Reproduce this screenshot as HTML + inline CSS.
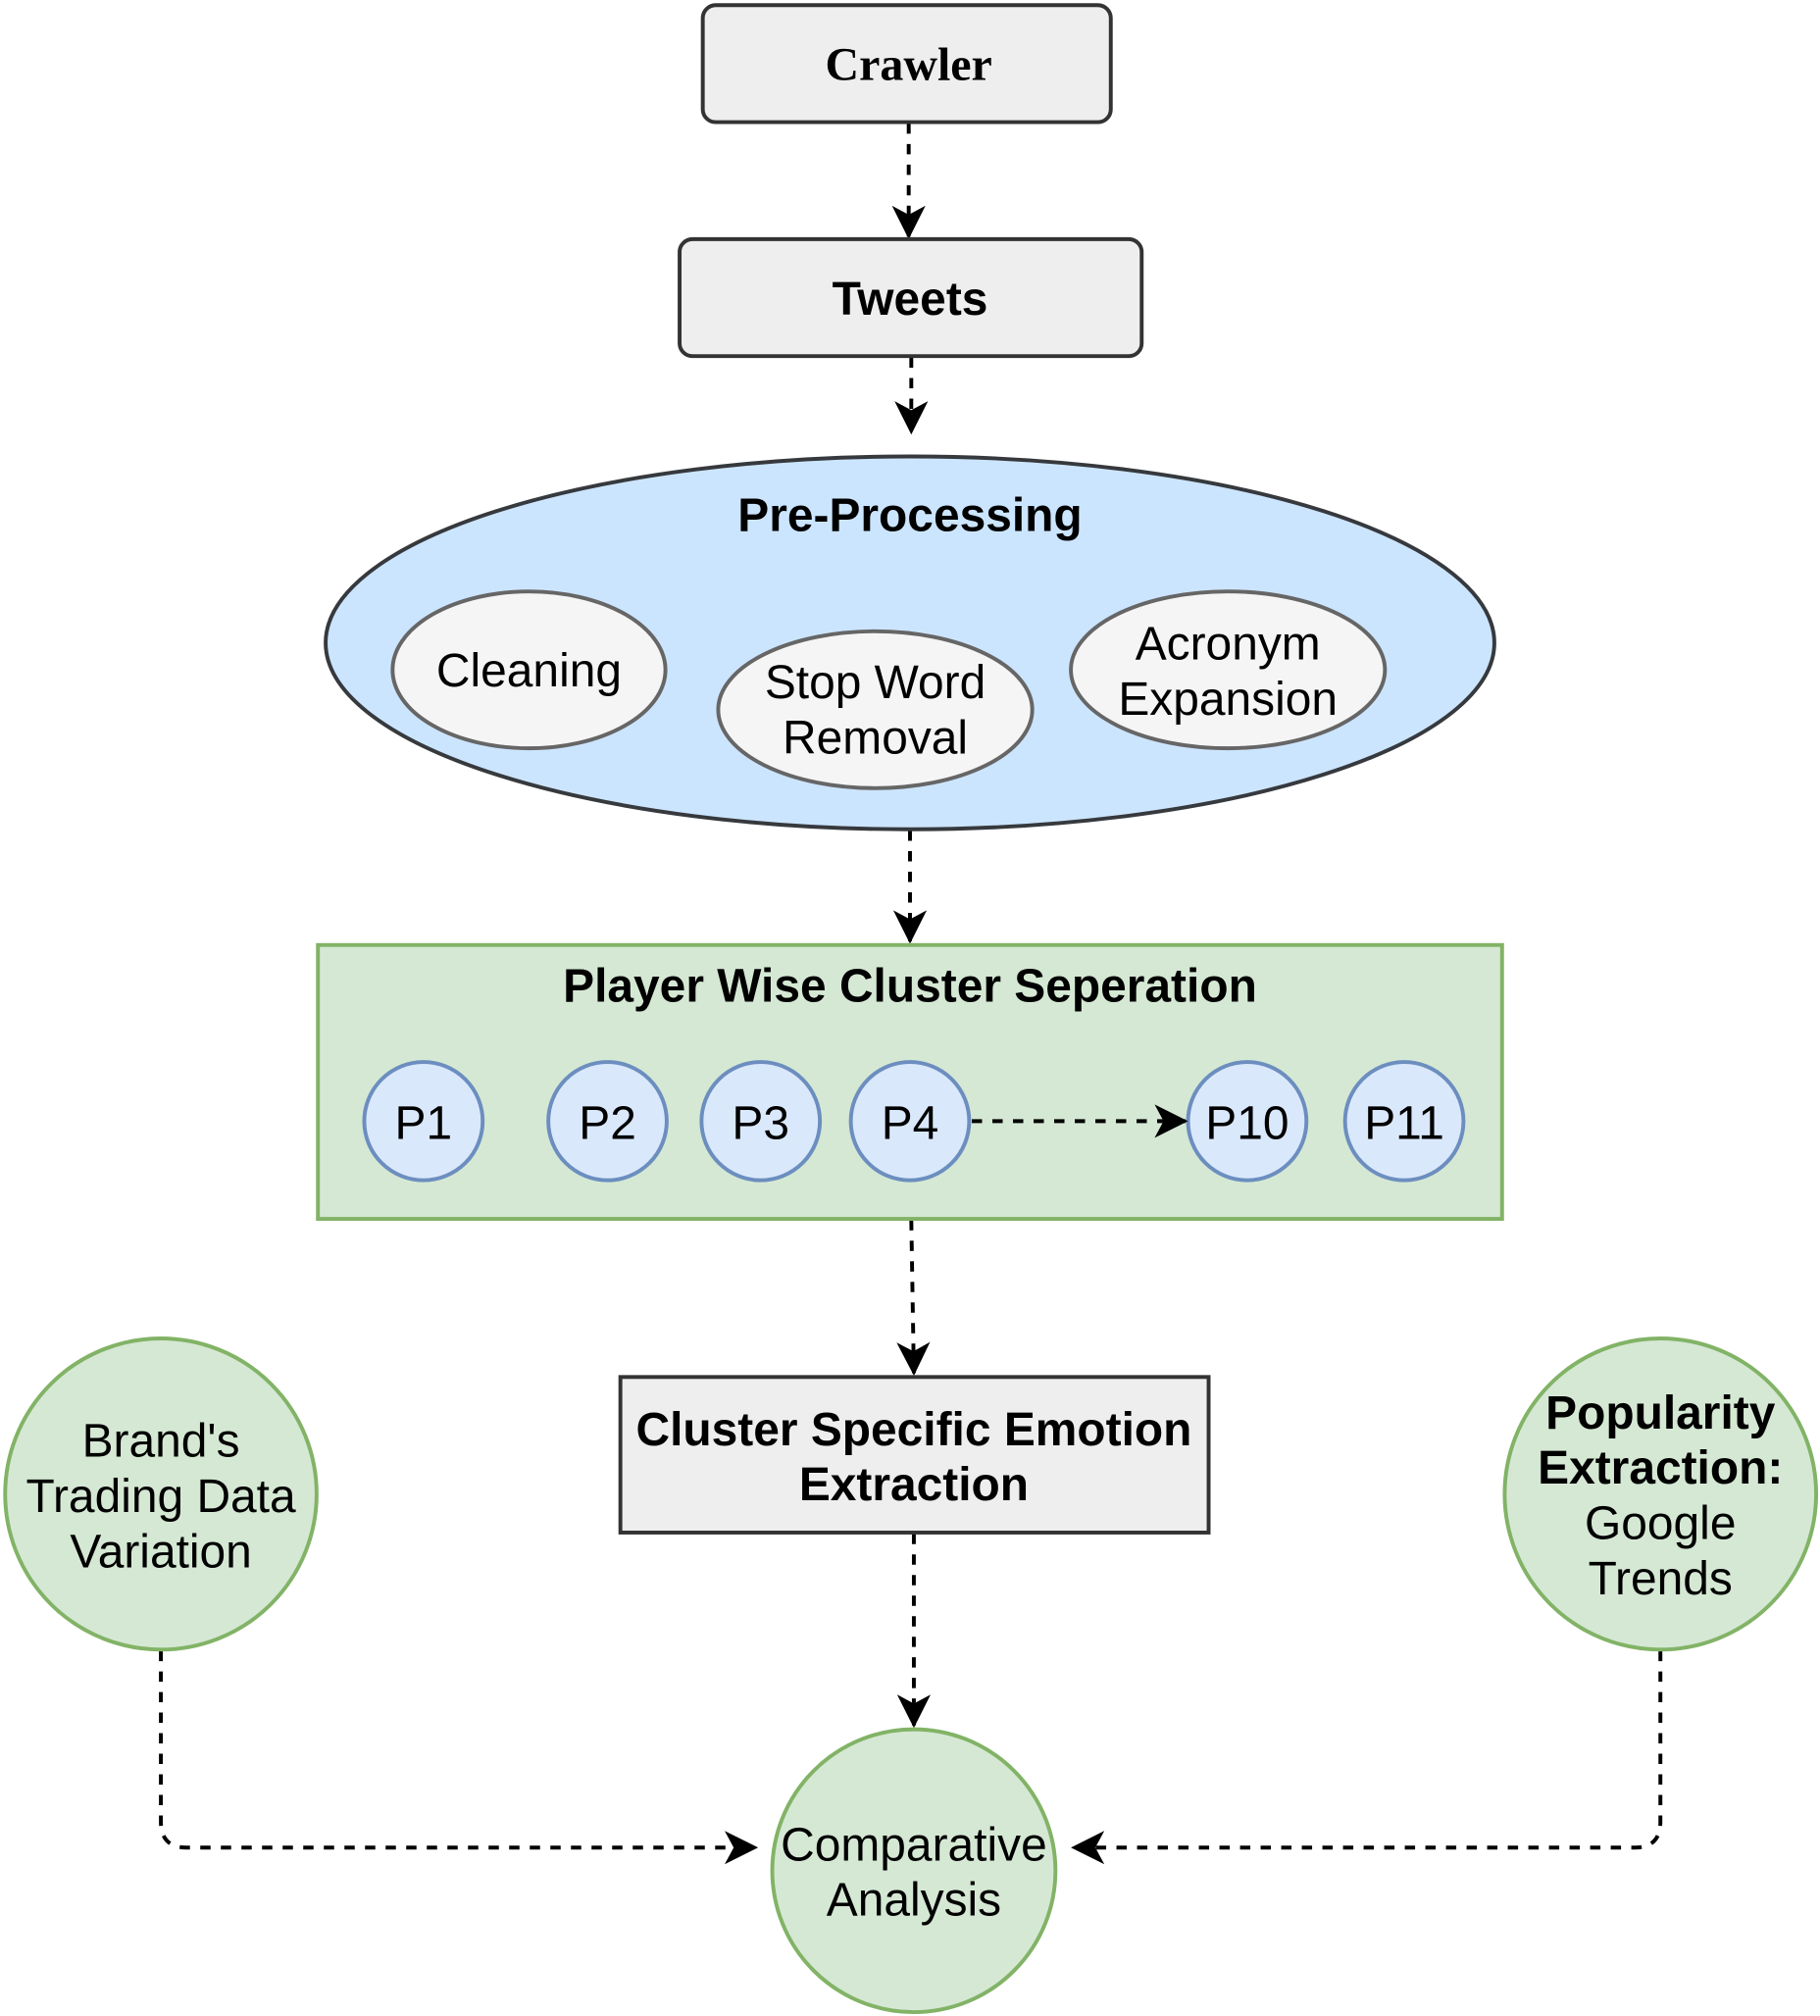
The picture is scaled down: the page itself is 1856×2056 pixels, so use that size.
<!DOCTYPE html>
<html><head><meta charset="utf-8"><style>
html,body{margin:0;padding:0;background:#fff;}
svg{display:block;}
text{font-family:"Liberation Sans",sans-serif;fill:#000;}
</style></head><body>
<svg width="1856" height="2056" viewBox="0 0 1414 1568" preserveAspectRatio="none" xmlns="http://www.w3.org/2000/svg">
<defs>
<marker id="b" markerWidth="26" markerHeight="26" refX="24" refY="13" orient="auto" markerUnits="userSpaceOnUse" viewBox="0 0 26 26">
<path d="M0,0 L26,13 L0,26 L7,13 Z" fill="#000"/>
</marker>
</defs>
<g stroke="#000" stroke-width="3" stroke-dasharray="8,8" fill="none">
<line x1="706" y1="96" x2="706" y2="184" marker-end="url(#b)"/>
<line x1="708" y1="278" x2="708" y2="336" marker-end="url(#b)"/>
<line x1="707" y1="646" x2="707" y2="732" marker-end="url(#b)"/>
<line x1="708" y1="949" x2="710" y2="1068" marker-end="url(#b)"/>
<line x1="710" y1="1193" x2="710" y2="1342" marker-end="url(#b)"/>
<path d="M125,1284 L125,1417 Q125,1437 145,1437 L587,1437" marker-end="url(#b)"/>
<path d="M1290,1284 L1290,1417 Q1290,1437 1270,1437 L834,1437" marker-end="url(#b)"/>
</g>
<rect x="546" y="4" width="317" height="91" rx="10" fill="#eeeeee" stroke="#333" stroke-width="3"/>
<text x="706" y="62" text-anchor="middle" font-size="36.5" font-weight="bold" style="font-family:'Liberation Serif',serif">Crawler</text>
<rect x="528" y="186" width="359" height="91" rx="10" fill="#eeeeee" stroke="#333" stroke-width="3"/>
<text x="707" y="245" text-anchor="middle" font-size="36.5" font-weight="bold">Tweets</text>
<ellipse cx="707" cy="500" rx="454" ry="145" fill="#cce5ff" stroke="#36393d" stroke-width="3"/>
<text x="707" y="413" text-anchor="middle" font-size="36.5" font-weight="bold">Pre-Processing</text>
<ellipse cx="411" cy="521" rx="106" ry="61" fill="#f5f5f5" stroke="#666" stroke-width="3"/>
<text x="411" y="534" text-anchor="middle" font-size="36.5">Cleaning</text>
<ellipse cx="680" cy="552" rx="122" ry="61" fill="#f5f5f5" stroke="#666" stroke-width="3"/>
<text x="680" y="543" text-anchor="middle" font-size="36.5">Stop Word</text>
<text x="680" y="586" text-anchor="middle" font-size="36.5">Removal</text>
<ellipse cx="954" cy="521" rx="122" ry="61" fill="#f5f5f5" stroke="#666" stroke-width="3"/>
<text x="954" y="513" text-anchor="middle" font-size="36.5">Acronym</text>
<text x="954" y="556" text-anchor="middle" font-size="36.5">Expansion</text>
<rect x="247" y="735" width="920" height="213" fill="#d5e8d4" stroke="#82b366" stroke-width="3"/>
<text x="707" y="779" text-anchor="middle" font-size="36.5" font-weight="bold">Player Wise Cluster Seperation</text>
<g fill="#dae8fc" stroke="#6c8ebf" stroke-width="3">
<circle cx="329" cy="872" r="46"/><circle cx="472" cy="872" r="46"/><circle cx="591" cy="872" r="46"/>
<circle cx="707" cy="872" r="46"/><circle cx="969" cy="872" r="46"/><circle cx="1091" cy="872" r="46"/>
</g>
<line x1="755" y1="872" x2="921" y2="872" stroke="#000" stroke-width="3" stroke-dasharray="8,8" marker-end="url(#b)"/>
<g font-size="36.5" text-anchor="middle">
<text x="329" y="886">P1</text><text x="472" y="886">P2</text><text x="591" y="886">P3</text>
<text x="707" y="886">P4</text><text x="969" y="886">P10</text><text x="1091" y="886">P11</text>
</g>
<rect x="482" y="1071" width="457" height="121" fill="#eeeeee" stroke="#333" stroke-width="3"/>
<text x="710" y="1124" text-anchor="middle" font-size="36.5" font-weight="bold">Cluster Specific Emotion</text>
<text x="710" y="1167" text-anchor="middle" font-size="36.5" font-weight="bold">Extraction</text>
<circle cx="710" cy="1455" r="110" fill="#d5e8d4" stroke="#82b366" stroke-width="3"/>
<text x="710" y="1447" text-anchor="middle" font-size="36.5">Comparative</text>
<text x="710" y="1490" text-anchor="middle" font-size="36.5">Analysis</text>
<circle cx="125" cy="1162" r="121" fill="#d5e8d4" stroke="#82b366" stroke-width="3"/>
<text x="125" y="1133" text-anchor="middle" font-size="36.5">Brand's</text>
<text x="125" y="1176" text-anchor="middle" font-size="36.5">Trading Data</text>
<text x="125" y="1219" text-anchor="middle" font-size="36.5">Variation</text>
<circle cx="1290" cy="1162" r="121" fill="#d5e8d4" stroke="#82b366" stroke-width="3"/>
<text x="1290" y="1111" text-anchor="middle" font-size="36.5" font-weight="bold">Popularity</text>
<text x="1290" y="1154" text-anchor="middle" font-size="36.5" font-weight="bold">Extraction:</text>
<text x="1290" y="1197" text-anchor="middle" font-size="36.5">Google</text>
<text x="1290" y="1240" text-anchor="middle" font-size="36.5">Trends</text>
</svg>
</body></html>
